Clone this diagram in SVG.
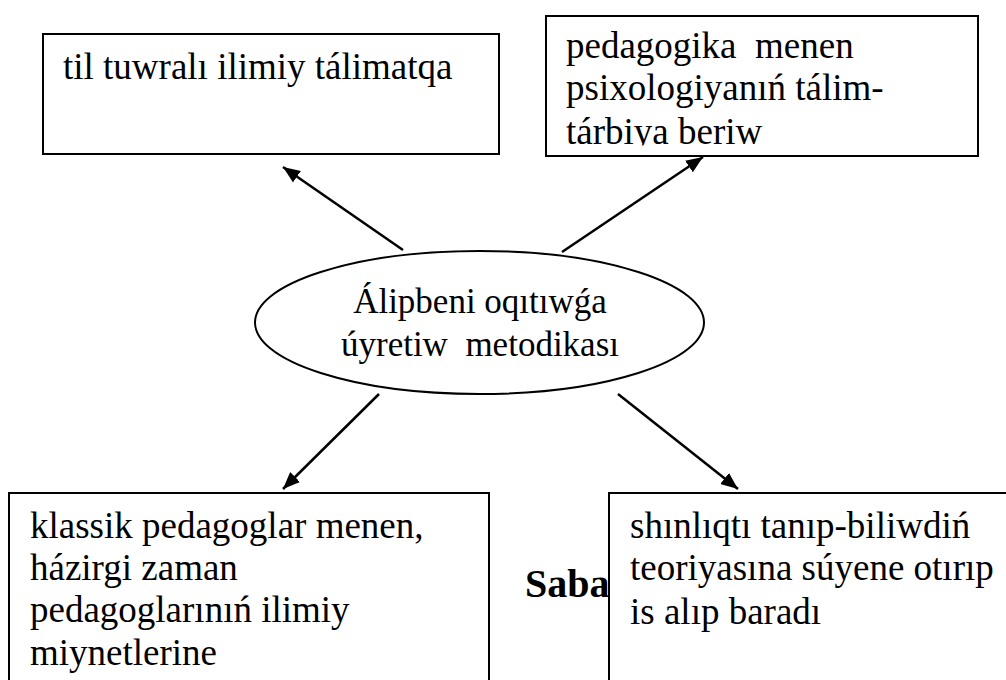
<svg xmlns="http://www.w3.org/2000/svg" width="1006" height="680" viewBox="0 0 1006 680">
<style>
.box{fill:#fff;stroke:#000;stroke-width:2}
.t{font-family:"Liberation Serif","Times New Roman",serif;font-size:37px;fill:#000}
.c{font-family:"Liberation Serif","Times New Roman",serif;font-size:35px;fill:#000;text-anchor:middle}
.b{font-family:"Liberation Serif","Times New Roman",serif;font-size:40px;font-weight:bold;fill:#000}
.conn{stroke:#000;stroke-width:2.5;fill:none;marker-end:url(#ah)}
</style>
<defs>
<marker id="ah" markerUnits="userSpaceOnUse" markerWidth="18" markerHeight="14" refX="17" refY="7" orient="auto">
<path d="M0,0 L17,7 L0,14 z" fill="#000"/>
</marker>
<clipPath id="clip2"><rect x="547" y="17" width="430" height="128.5"/></clipPath>
</defs>
<rect width="1006" height="680" fill="#fff"/>
<g id="node-top-left">
<rect class="box" x="43" y="34" width="456" height="120"/>
<text class="t" x="63" y="79">til tuwralı ilimiy tálimatqa</text>
</g>
<g id="node-top-right">
<rect class="box" x="546" y="16" width="432" height="140"/>
<g clip-path="url(#clip2)">
<text class="t" x="566" y="58" xml:space="preserve">pedagogika  menen</text>
<text class="t" x="566" y="100">psixologiyanıń tálim-</text>
<text class="t" x="566" y="144">tárbiya beriw</text>
</g>
</g>
<g id="node-center">
<ellipse cx="479.5" cy="322.5" rx="224.5" ry="71.5" fill="#fff" stroke="#000" stroke-width="2"/>
<text class="c" x="480" y="313">Álipbeni oqıtıwǵa</text>
<text class="c" x="480" y="356" xml:space="preserve">úyretiw  metodikası</text>
</g>
<g id="node-bottom-left">
<rect class="box" x="9" y="493" width="480" height="200"/>
<text class="t" x="30" y="538">klassik pedagoglar menen,</text>
<text class="t" x="30" y="580">házirgi zaman</text>
<text class="t" x="30" y="622">pedagoglarınıń ilimiy</text>
<text class="t" x="30" y="665">miynetlerine</text>
</g>
<text id="label-saba" class="b" x="525" y="597">Saba</text>
<g id="node-bottom-right">
<rect class="box" x="609" y="493" width="420" height="200"/>
<text class="t" x="630" y="538">shınlıqtı tanıp-biliwdiń</text>
<text class="t" x="630" y="580">teoriyasına súyene otırıp</text>
<text class="t" x="630" y="624">is alıp baradı</text>
</g>
<g id="connectors">
<line class="conn" x1="403" y1="250" x2="283" y2="167"/>
<line class="conn" x1="562" y1="252" x2="703" y2="157"/>
<line class="conn" x1="379" y1="394" x2="283" y2="489"/>
<line class="conn" x1="618" y1="394" x2="738" y2="489"/>
</g>
</svg>
